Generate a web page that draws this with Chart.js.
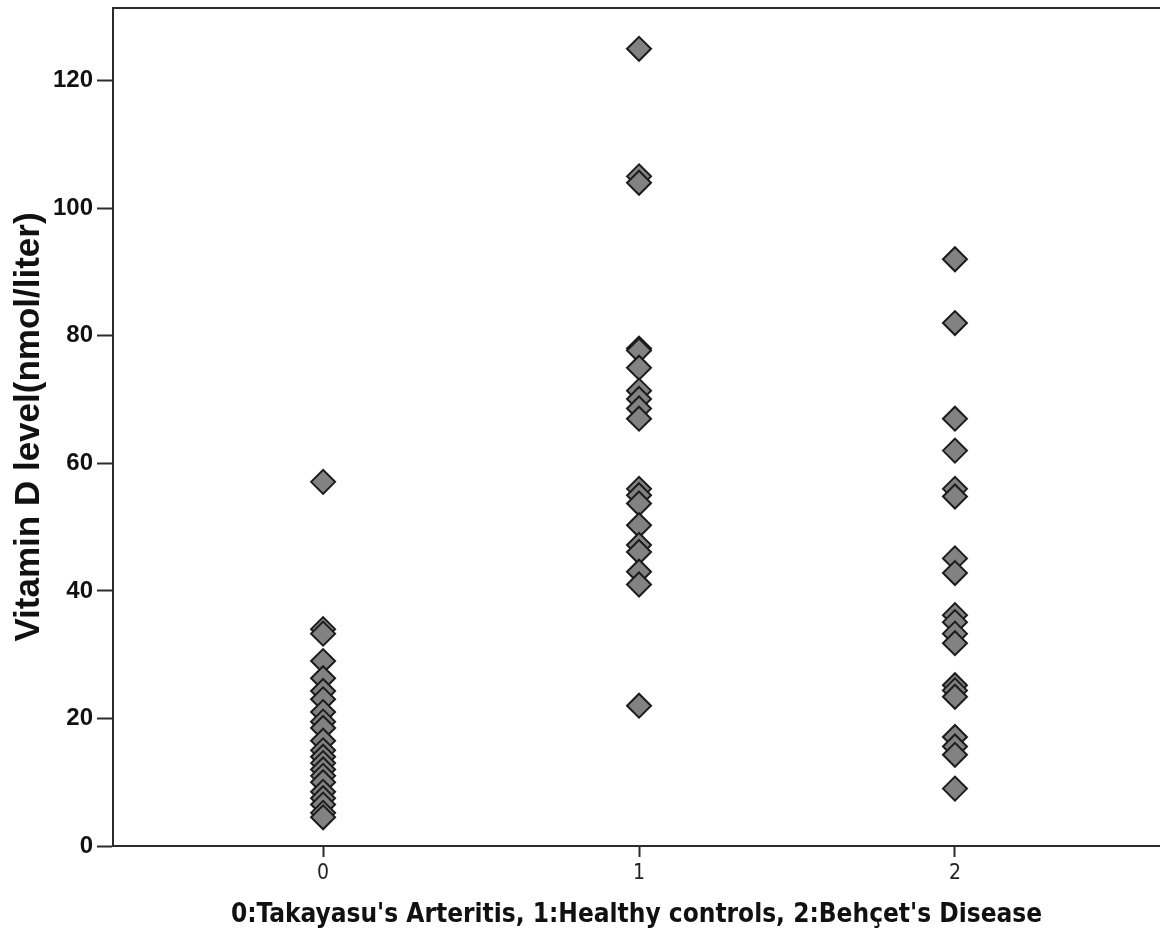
<!DOCTYPE html>
<html>
<head>
<meta charset="utf-8">
<script src="https://cdn.jsdelivr.net/npm/chart.js@4"></script>
<style>
  html, body { margin: 0; padding: 0; background: #fff; }
  #wrap { width: 1160px; height: 937px; }
</style>
</head>
<body>
<div id="wrap"><canvas id="vitd"></canvas></div>
<script>
// group codes on the x axis
const groups = [0, 1, 2];
const groupNames = ["Takayasu's Arteritis", 'Healthy controls', "Behçet's Disease"];

// vitamin D level (nmol/liter)
const takayasu = [57.1, 34, 33.3, 29, 26.3, 24.3, 23, 21, 19.5, 18.5, 16.5, 15, 14, 13, 12, 11, 10, 8.5, 7.5, 6.5, 5.2, 4.5];
const healthy = [125, 105, 104, 78, 77.7, 75, 71.4, 70.1, 68.6, 67, 56, 55, 53.7, 50.3, 47.2, 46.1, 43, 41, 22];
const behcet = [92, 82, 67, 62, 56, 54.8, 45.1, 42.8, 36.2, 35.1, 33.3, 31.8, 25.2, 24.4, 23.4, 17.1, 15.6, 14.3, 9];

const yTicks = [0, 20, 40, 60, 80, 100, 120];

const series = [takayasu, healthy, behcet];
const points = [];
series.forEach((vals, i) => {
    vals.forEach(v => points.push({ x: groups[i], y: v }));
});

const axisColor = '#2b2b2b';

new Chart(document.getElementById('vitd'), {
    type: 'scatter',
    data: {
        datasets: [{
            data: points,
            pointStyle: 'rectRot',
            pointRadius: 12,
            pointHoverRadius: 12,
            backgroundColor: '#828282',
            borderColor: '#1c1c1c',
            borderWidth: 2,
            clip: false
        }]
    },
    options: {
        responsive: true,
        maintainAspectRatio: false,
        animation: false,
        layout: { padding: 0, autoPadding: false },
        plugins: { legend: { display: false }, tooltip: { enabled: false } },
        scales: {
            x: {
                type: 'linear',
                min: -0.665,
                max: 2.649,
                afterBuildTicks: s => { s.ticks = groups.map(g => ({ value: g })); },
                afterFit: s => { s.height = 91; s.paddingLeft = 0; s.paddingRight = 0; },
                grid: { drawOnChartArea: false, drawTicks: true, tickLength: 11, tickWidth: 2, tickColor: axisColor },
                border: { color: axisColor, width: 2 },
                ticks: { color: '#222', font: { family: "'DejaVu Sans Condensed', 'DejaVu Sans', sans-serif", size: 21 }, padding: 4 },
                title: {
                    display: true,
                    text: groups.map((g, i) => g + ':' + groupNames[i]).join(', '),
                    color: '#111',
                    font: { family: "'DejaVu Sans Condensed', 'DejaVu Sans', sans-serif", size: 26, weight: 'bold' },
                    padding: { top: 8, bottom: 6 }
                }
            },
            xTop: {
                type: 'linear',
                position: 'top',
                min: -0.665,
                max: 2.649,
                afterFit: s => { s.height = 8; s.paddingLeft = 0; s.paddingRight = 0; },
                grid: { display: false },
                border: { color: axisColor, width: 2 },
                ticks: { display: false }
            },
            y: {
                min: 0,
                max: 131.4,
                afterBuildTicks: s => { s.ticks = yTicks.map(v => ({ value: v })); },
                afterFit: s => { s.width = 113; s.paddingTop = 0; s.paddingBottom = 0; },
                grid: { drawOnChartArea: false, drawTicks: true, tickLength: 16, tickWidth: 2, tickColor: axisColor },
                border: { color: axisColor, width: 2 },
                ticks: { color: '#111', font: { family: "'Liberation Sans', Arial, sans-serif", size: 24, weight: 'bold' }, padding: 4 },
                title: {
                    display: true,
                    text: 'Vitamin D level(nmol/liter)',
                    color: '#111',
                    font: { family: "'Liberation Sans', Arial, sans-serif", size: 35, weight: 'bold' },
                    padding: { top: 8, bottom: 0 }
                }
            }
        }
    }
});
</script>
</body>
</html>
